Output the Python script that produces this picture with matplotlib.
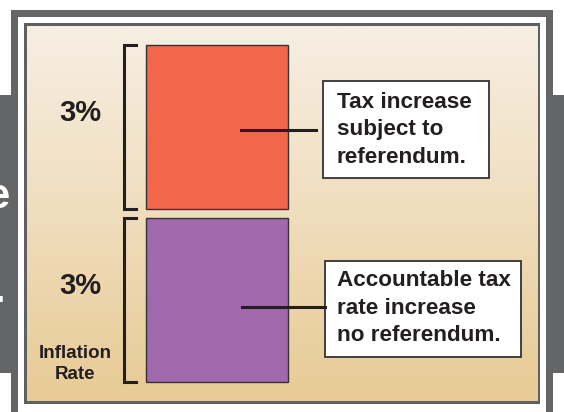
import numpy as np
import matplotlib.pyplot as plt
import matplotlib.transforms as mtransforms
from matplotlib.patches import Rectangle

plt.rcParams['font.family'] = ['Liberation Sans', 'DejaVu Sans']

# chart data, bottom segment first
segments = ['Accountable tax rate', 'Tax increase']
values = [3, 3]
colors = ['#a169ad', '#f2674a']
box_texts = ['Accountable tax\nrate increase\nno referendum.',
             'Tax increase\nsubject to\nreferendum.']
axis_label = 'Inflation\nRate'

W, H = 564, 412
fig = plt.figure(figsize=(W / 100, H / 100), dpi=100)

#background axes in pixel units (y down)
bg = fig.add_axes([0, 0, 1, 1])
bg.set_xlim(0, W)
bg.set_ylim(H, 0)
bg.axis('off')

gray = '#646566'
# side strips of the slide behind
bg.add_patch(Rectangle((0, 95), 12, 278, color=gray, lw=0))
bg.add_patch(Rectangle((552, 95), 12, 278, color=gray, lw=0))
bg.text(9, 197, 'e', color='white', fontsize=30, fontweight='bold', ha='right', va='center')
bg.text(5, 302, '.', color='white', fontsize=30, fontweight='bold', ha='right', va='baseline')

# outer frame
bg.add_patch(Rectangle((11, 10), 542, 410, color=gray, lw=0))
bg.add_patch(Rectangle((18, 17), 528, 400, color='white', lw=0))
bg.add_patch(Rectangle((24, 23), 516, 381, color='#5f6061', lw=0))

# panel gradient
top = np.array([0xf7, 0xef, 0xe4]) / 255
bot = np.array([0xe8, 0xcb, 0x95]) / 255
t = np.linspace(0, 1, 256)[:, None]
grad = (top * (1 - t) + bot * t)[:, None, :]
bg.imshow(grad, extent=[27, 538, 401, 26], aspect='auto', interpolation='bilinear', zorder=1)

# text boxes
bg.add_patch(Rectangle((323, 81), 166, 97, facecolor='white', edgecolor='#333333', lw=1.3, zorder=2))
bg.add_patch(Rectangle((325, 261), 196, 96, facecolor='white', edgecolor='#333333', lw=1.3, zorder=2))
bg.text(337, 130, box_texts[1], fontsize=16.2, fontweight='bold', color='#231f20',
        ha='left', va='center', linespacing=1.4, zorder=3)
bg.text(337, 308, box_texts[0], fontsize=16.2, fontweight='bold', color='#231f20',
        ha='left', va='center', linespacing=1.4, zorder=3)

bg.text(75, 364, axis_label, fontsize=13.5, fontweight='bold', color='#231f20',
        ha='center', va='center', linespacing=1.3, zorder=3)

# bar axes
gap = 0.18
bax = fig.add_axes([146 / W, (H - 382) / H, (288 - 146) / W, (382 - 45) / H])
bax.patch.set_alpha(0)
bax.axis('off')
bax.set_xlim(-0.5, 0.5)
bax.set_ylim(0, sum(values) + gap * (len(values) - 1))

bottoms = []
b = 0
for v in values:
    bottoms.append(b)
    b += v + gap

bars = bax.bar([0] * len(values), values, bottom=bottoms, width=1.0, color=colors,
               edgecolor='#333333', linewidth=1.0)
for bar in bars:
    bar.set_clip_on(False)

trans = mtransforms.blended_transform_factory(bg.transData, bax.transData)
for v, b0 in zip(values, bottoms):
    b1 = b0 + v
    bax.plot([136, 124, 124, 136], [b1, b1, b0, b0], color='#231f20', lw=2.2,
             transform=trans, clip_on=False, solid_joinstyle='miter')
    bax.annotate(f'{v}%', (80, b0 + v / 2), xycoords=trans, xytext=(0, 14),
                 textcoords='offset pixels', fontsize=21, fontweight='bold',
                 color='#231f20', ha='center', va='center', annotation_clip=False)

# connector lines
bax.plot([241, 316], [130, 130], color='#231f20', lw=2.2, transform=bg.transData, clip_on=False)
bax.plot([242, 325], [307, 307], color='#231f20', lw=2.2, transform=bg.transData, clip_on=False)

fig.savefig('out.png', dpi=100)
